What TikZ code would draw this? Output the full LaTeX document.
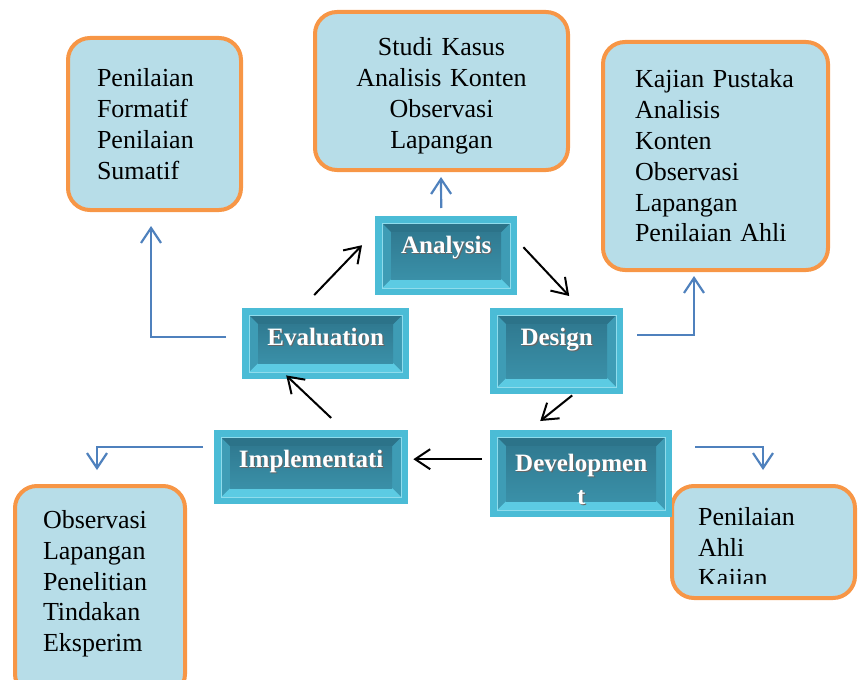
\documentclass[tikz,border=0pt]{standalone}
\usepackage{fontspec}
\setmainfont{Liberation Serif}
\usetikzlibrary{arrows.meta,positioning}

\definecolor{boxline}{HTML}{F79646}
\definecolor{boxfill}{HTML}{B7DDE8}
\definecolor{linkblue}{HTML}{4F81BD}
\definecolor{btnframe}{HTML}{4BBCD6}
\definecolor{btnrim}{HTML}{8FDCEC}
\definecolor{btnside}{HTML}{3E9CB5}
\definecolor{btndark}{HTML}{2C7389}
\definecolor{btnlight}{HTML}{5CCBE3}
\definecolor{btntop}{HTML}{307A91}
\definecolor{btnbot}{HTML}{3A90A8}

\newcommand{\shtext}[1]{\leavevmode\rlap{\hspace{1.2pt}\raisebox{-1.2pt}{\textcolor{black!60}{#1}}}#1}

\tikzset{
  infobox/.style={draw=boxline, fill=boxfill, line width=4pt, rounded corners=22pt,
    inner ysep=0pt, align=left, font=\fontsize{26}{30.8}\selectfont},
  btn/.style={rectangle, anchor=north west, inner xsep=0pt, inner ysep=3pt, text height=34pt,
    fill=btnframe, text=white, align=center, font=\fontsize{25}{33}\selectfont\bfseries,
    path picture={
      \coordinate (bsw) at (path picture bounding box.south west);
      \coordinate (bse) at (path picture bounding box.south east);
      \coordinate (bne) at (path picture bounding box.north east);
      \coordinate (bnw) at (path picture bounding box.north west);
      \fill[btnside] ([shift={(7pt,7pt)}]bsw) rectangle ([shift={(-7pt,-7pt)}]bne);
      \fill[btndark] ([shift={(7pt,-7pt)}]bnw) -- ([shift={(-7pt,-7pt)}]bne)
        -- ([shift={(-16pt,-16pt)}]bne) -- ([shift={(16pt,-16pt)}]bnw) -- cycle;
      \fill[btnlight] ([shift={(7pt,7pt)}]bsw) -- ([shift={(-7pt,7pt)}]bse)
        -- ([shift={(-16pt,16pt)}]bse) -- ([shift={(16pt,16pt)}]bsw) -- cycle;
      \shade[top color=btntop, bottom color=btnbot] ([shift={(16pt,16pt)}]bsw) rectangle ([shift={(-16pt,-16pt)}]bne);
      \draw[btnrim, line width=0.8pt] ([shift={(7pt,7pt)}]bsw) rectangle ([shift={(-7pt,-7pt)}]bne);
    }},
  flow/.style={-{Straight Barb[length=15pt,width=20pt]}, line width=2pt},
  link/.style={-{Straight Barb[length=15pt,width=20pt]}, linkblue, line width=2.2pt},
}

\begin{document}
\begin{tikzpicture}[x=1pt, y=-1pt]
  \useasboundingbox (0,0) rectangle (858,679);

  % Info boxes
  \node[infobox, minimum width=173pt, minimum height=172pt, inner xsep=29pt, text width=115pt] (nilai) at (154.5,124)
    {Penilaian\\Formatif\\Penilaian\\Sumatif};
  \node[infobox, align=center, minimum width=253pt, minimum height=158pt, inner xsep=29pt, text width=195pt] (kasus) at (441.5,91)
    {\rule{0pt}{28pt}Studi Kasus\\Analisis Konten\\Observasi\\Lapangan};
  \node[infobox, minimum width=225pt, minimum height=228pt, inner xsep=32pt, text width=161pt] (pustaka) at (715.5,156)
    {Kajian Pustaka\\Analisis\\Konten\\Observasi\\Lapangan\\Penilaian Ahli};
  \node[infobox, minimum width=170pt, minimum height=210pt, inner xsep=28pt, text width=114pt] (tindakan) at (100,591)
    {Observasi\\Lapangan\\Penelitian\\Tindakan\\Eksperim\rule[-20pt]{0pt}{1pt}};
  \node[infobox, minimum width=183pt, minimum height=112pt] (ahli) at (763.5,542) {};
  \begin{scope}
    \clip (672,486) rectangle (855,583);
    \node[anchor=north west, align=left, inner sep=0pt, font=\fontsize{26}{30.8}\selectfont] (ahlitext) at (698,507)
      {Penilaian\\Ahli\\Kajian};
  \end{scope}

  % ADDIE steps
  \node[btn, minimum width=142pt, text depth=39pt] (ana) at (375,216) {\shtext{Analysis}};
  \node[btn, minimum width=133pt, text depth=46pt] (design) at (490,308) {\shtext{Design}};
  \node[btn, minimum width=182pt, text height=71pt, text depth=10pt] (dev) at (490,430) {\shtext{Developmen}\\\shtext{t}};
  \node[btn, minimum width=194pt, text depth=34pt] (impl) at (214,430) {\shtext{Implementati}};
  \node[btn, minimum width=167pt, text depth=31pt] (eval) at (242,308) {\shtext{Evaluation}};

  % Cycle
  \draw[flow] ([xshift=-11.5pt,yshift=13pt]eval.north) -- ([xshift=-13pt,yshift=10.5pt]ana.west);
  \draw[flow] ([xshift=6pt,yshift=8.5pt]ana.east) -- ([xshift=12.5pt,yshift=12pt]design.north);
  \draw[flow] ([xshift=15.5pt,yshift=-1pt]design.south) -- ([xshift=-41pt,yshift=9pt]dev.north);
  \draw[flow] ([xshift=-8pt,yshift=14.5pt]dev.west) -- ([xshift=5pt,yshift=8pt]impl.east);
  \draw[flow] ([xshift=20pt,yshift=12pt]impl.north) -- ([xshift=-39.5pt,yshift=4pt]eval.south);

  % Methods
  \draw[link] ([xshift=-5pt,yshift=8pt]ana.north) -- ([xshift=-0.5pt,yshift=-5pt]kasus.south);
  \draw[link] ([xshift=-16pt,yshift=6.5pt]eval.west) -| ([xshift=-3.5pt,yshift=-14pt]nilai.south);
  \draw[link] ([xshift=14pt,yshift=16pt]design.east) -| ([xshift=-21.5pt,yshift=-4pt]pustaka.south);
  \draw[link] ([xshift=-11pt,yshift=20pt]impl.west) -| ([xshift=-3pt,yshift=14pt]tindakan.north);
  \draw[link] ([xshift=23pt,yshift=26.5pt]dev.east) -| ([xshift=-0.5pt,yshift=14pt]ahli.north);
\end{tikzpicture}
\end{document}
